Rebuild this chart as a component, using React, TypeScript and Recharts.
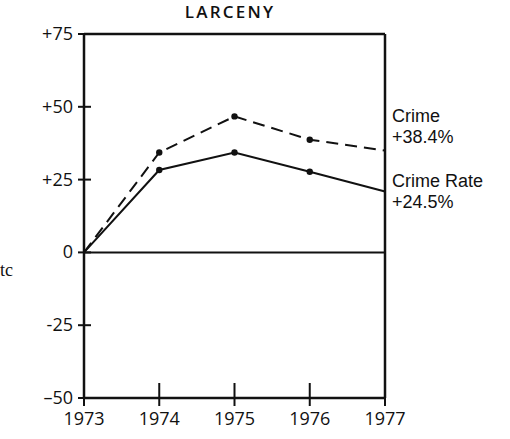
import React from "react";
import {
  LineChart,
  Line,
  XAxis,
  YAxis,
  ReferenceLine,
} from "recharts";

const years = [1973, 1974, 1975, 1976, 1977];
const crime = [0, 34.3, 46.7, 38.7, 35.0];
const crimeRate = [0, 28.3, 34.3, 27.7, 20.9];
const yTicks = [-50, -25, 0, 25, 50, 75];
const yTickLabels = ["\u201350", "-25", "0", "+25", "+50", "+75"];

const data = years.map((year, i) => ({
  year,
  crime: crime[i],
  crimeRate: crimeRate[i],
}));

const FONT = "'Open Sans', sans-serif";
const LABEL_FONT = "'Liberation Sans', Arial, sans-serif";
const INK = "#111";

const YTick = (props: any) => {
  const { x, y, payload } = props;
  const label = yTickLabels[yTicks.indexOf(payload.value)];
  return (
    <g>
      <line x1={x - 6} x2={x + 7} y1={y} y2={y} stroke={INK} strokeWidth={2} />
      <text
        x={x - 11}
        y={y + 6}
        textAnchor="end"
        fontFamily={FONT}
        fontSize={18}
        fill={INK}
      >
        {label}
      </text>
    </g>
  );
};

const XTick = (props: any) => {
  const { x, y, payload } = props;
  return (
    <g>
      <line x1={x} x2={x} y1={y - 15} y2={y + 8} stroke={INK} strokeWidth={2} />
      <text
        x={x}
        y={y + 27}
        textAnchor="middle"
        fontFamily={FONT}
        fontSize={18}
        fill={INK}
      >
        {payload.value}
      </text>
    </g>
  );
};

// only the middle years carry a dot
const renderDot = (p: any) =>
  p.index > 0 && p.index < years.length - 1 ? (
    <circle key={p.index} cx={p.cx} cy={p.cy} r={3.2} fill={INK} />
  ) : (
    <g key={p.index} />
  );

export default function App() {
  return (
    <div
      style={{
        position: "absolute",
        left: 0,
        top: 0,
        width: 510,
        height: 439,
        background: "#fff",
      }}
    >
      <LineChart
        width={510}
        height={439}
        data={data}
        margin={{ top: 34, right: 125, bottom: 0, left: 0 }}
      >
        <XAxis
          dataKey="year"
          type="number"
          domain={[1973, 1977]}
          ticks={years}
          height={41}
          tickSize={0}
          tickMargin={0}
          tick={<XTick />}
          axisLine={{ stroke: INK, strokeWidth: 2.5 }}
        />
        <YAxis
          type="number"
          domain={[-50, 75]}
          ticks={yTicks}
          width={84}
          tickSize={0}
          tickMargin={0}
          tick={<YTick />}
          axisLine={{ stroke: INK, strokeWidth: 2.5 }}
        />
        <ReferenceLine y={75} stroke={INK} strokeWidth={2.5} />
        <ReferenceLine x={1977} stroke={INK} strokeWidth={2.5} />
        <ReferenceLine y={0} stroke={INK} strokeWidth={2} />
        <Line
          type="linear"
          dataKey="crime"
          stroke={INK}
          strokeWidth={2}
          strokeDasharray="12 7"
          dot={renderDot}
          activeDot={false}
          isAnimationActive={false}
        />
        <Line
          type="linear"
          dataKey="crimeRate"
          stroke={INK}
          strokeWidth={2}
          dot={renderDot}
          activeDot={false}
          isAnimationActive={false}
        />
      </LineChart>
      <svg
        width={510}
        height={439}
        style={{ position: "absolute", left: 0, top: 0, pointerEvents: "none" }}
      >
        <g fontFamily={FONT} fill={INK}>
          <text
            x={230}
            y={18}
            textAnchor="middle"
            fontSize={17}
            fontWeight={600}
            letterSpacing={2.2}
          >
            LARCENY
          </text>
          <text x={392} y={122} fontSize={18} fontFamily={LABEL_FONT}>
            Crime
          </text>
          <text x={392} y={143} fontSize={18} fontFamily={LABEL_FONT}>
            +38.4%
          </text>
          <text x={392} y={187} fontSize={18} fontFamily={LABEL_FONT}>
            Crime Rate
          </text>
          <text x={392} y={208} fontSize={18} fontFamily={LABEL_FONT}>
            +24.5%
          </text>
          <text x={0} y={276} fontSize={18} fontFamily="'Liberation Serif', serif">
            tc
          </text>
        </g>
      </svg>
    </div>
  );
}
